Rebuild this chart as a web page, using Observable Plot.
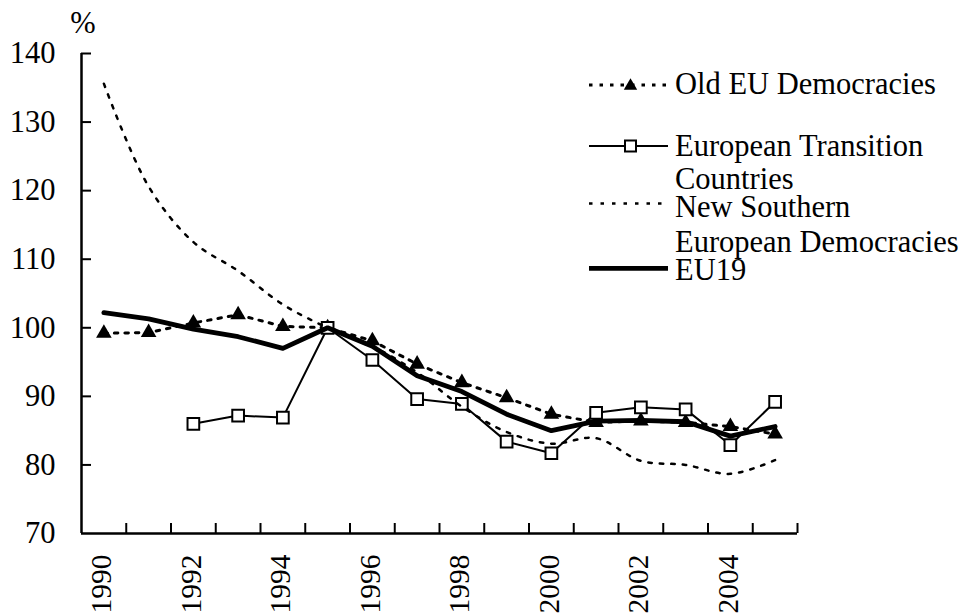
<!DOCTYPE html>
<html>
<head>
<meta charset="utf-8">
<script src="https://cdn.jsdelivr.net/npm/d3@7"></script>
<script src="https://cdn.jsdelivr.net/npm/@observablehq/plot@0.6"></script>
<style>
  html, body { margin: 0; padding: 0; background: #fff; }
  #wrap { position: relative; width: 963px; height: 616px; overflow: hidden; }
  #legend { position: absolute; left: 0; top: 0; pointer-events: none; }
  #wrap svg text { font-family: "Liberation Serif", "Times New Roman", Times, "DejaVu Serif", serif !important; }
</style>
</head>
<body>
<div id="wrap"></div>
<script>
// ---- data ----
const years = [1990,1991,1992,1993,1994,1995,1996,1997,1998,1999,2000,2001,2002,2003,2004,2005];
const oldEU = [99.2,99.3,100.7,101.9,100.2,100,98.1,94.7,92.0,89.8,87.4,86.2,86.4,86.2,85.6,84.5];
const transition = [null,null,86.0,87.2,86.9,100,95.3,89.6,88.9,83.4,81.7,87.6,88.4,88.1,82.9,89.2];
const newSouthern = [135.6,120.6,112.5,108.3,103.4,100,97.3,93.5,88.5,84.8,83.1,83.9,80.6,80.0,78.7,80.7];
const eu19 = [102.2,101.3,99.8,98.7,97.0,100,97.3,93.0,90.7,87.4,85.0,86.4,86.5,86.3,84.2,85.6];
const yTicks = [70,80,90,100,110,120,130,140];
const xTickLabels = [1990,1992,1994,1996,1998,2000,2002,2004];
const seriesNames = ["Old EU Democracies","European Transition Countries","New Southern European Democracies","EU19"];
const legendLines = [["Old EU Democracies"],["European Transition","Countries"],["New Southern","European Democracies"],["EU19"]];
const yUnit = "%";

// ---- derived tables ----
const rows = (arr) => years.map((year, i) => ({year, v: arr[i]})).filter(d => d.v != null);
const dOld = rows(oldEU), dTr = rows(transition), dNS = rows(newSouthern), dEU = rows(eu19);
const boundaries = years.map(y => y + 0.5);

const W = 963, H = 616;
const mL = 81, mR = 166, mT = 53, mB = 83;
const frameW = W - mL - mR, frameH = H - mT - mB;
const FONT = '"Liberation Serif", "Times New Roman", Times, serif';
const FS = 30.5;
const FSX = 29.5;

const chart = Plot.plot({
  width: W, height: H,
  marginLeft: mL, marginRight: mR, marginTop: mT, marginBottom: mB,
  style: {fontFamily: FONT, fontSize: FS + "px", color: "#000", background: "#fff"},
  x: {type: "linear", domain: [years[0] - 0.5, years[years.length - 1] + 0.5]},
  y: {domain: [70, 140]},
  marks: [
    Plot.axisY({ticks: yTicks, tickSize: 0, tickPadding: 26, label: null, fontSize: FS}),
    Plot.axisX({ticks: xTickLabels, tickFormat: d => String(d), tickRotate: -90, tickSize: 0, tickPadding: 21, label: null, fontSize: FSX, dx: -2}),
    Plot.text([yUnit], {frameAnchor: "top-left", text: d => d, dx: 1.5, dy: -30.5, textAnchor: "middle", lineAnchor: "middle", fontSize: FS}),
    Plot.tickY(yTicks.slice(1), {y: d => d, insetRight: frameW - 10, stroke: "#000", strokeWidth: 2}),
    Plot.tickX(boundaries, {x: d => d, insetTop: frameH - 10, stroke: "#000", strokeWidth: 2}),
    // Old EU democracies
    Plot.line(dOld, {x: "year", y: "v", stroke: "#000", strokeWidth: 3, strokeDasharray: "3.5,7"}),
    Plot.dot(dOld, {x: "year", y: "v", symbol: "triangle", r: 5.8, fill: "#000", stroke: "none"}),
    // European transition countries
    Plot.line(dTr, {x: "year", y: "v", stroke: "#000", strokeWidth: 2}),
    Plot.dot(dTr, {x: "year", y: "v", symbol: "square", r: 6.6, fill: "#fff", stroke: "#000", strokeWidth: 2}),
    // New southern European democracies
    Plot.line(dNS, {x: "year", y: "v", stroke: "#000", strokeWidth: 2.5, strokeDasharray: "3.5,8", curve: "catmull-rom"}),
    // EU19
    Plot.line(dEU, {x: "year", y: "v", stroke: "#000", strokeWidth: 4.8}),
    // axis lines
    Plot.ruleX([years[0] - 0.5], {stroke: "#000", strokeWidth: 2.5}),
    Plot.ruleY([70], {stroke: "#000", strokeWidth: 2.5})
  ]
});
document.getElementById("wrap").appendChild(chart);

// ---- legend (overlay) ----
const lg = d3.select("#wrap").append("svg").attr("id", "legend").attr("width", W).attr("height", H);
const lx0 = 589, lx1 = 668, tx = 675;
const lineY = [85, 146, 203.5, 268.3];
const textY = [[94], [156, 189], [217, 252], [280]];
const styles = [
  {w: 3, dash: "3.5,7"},
  {w: 2, dash: null},
  {w: 2.5, dash: "3.5,8"},
  {w: 4.8, dash: null}
];
seriesNames.forEach((name, i) => {
  const g = lg.append("g").attr("aria-label", name);
  g.append("line").attr("x1", lx0).attr("x2", lx1).attr("y1", lineY[i]).attr("y2", lineY[i])
    .attr("stroke", "#000").attr("stroke-width", styles[i].w)
    .attr("stroke-dasharray", styles[i].dash);
  const cx = (lx0 + lx1) / 2 + 2;
  if (i === 0) {
    g.append("path").attr("d", d3.symbol(d3.symbolTriangle, 78)()).attr("transform", `translate(${cx},${lineY[i] + 1})`).attr("fill", "#000");
  }
  if (i === 1) {
    g.append("rect").attr("x", cx - 5.5).attr("y", lineY[i] - 5.5).attr("width", 11).attr("height", 11)
      .attr("fill", "#fff").attr("stroke", "#000").attr("stroke-width", 2);
  }
  legendLines[i].forEach((t, j) => {
    g.append("text").attr("x", tx).attr("y", textY[i][j]).text(t)
      .attr("font-size", FS).attr("fill", "#000");
  });
});
</script>
</body>
</html>
